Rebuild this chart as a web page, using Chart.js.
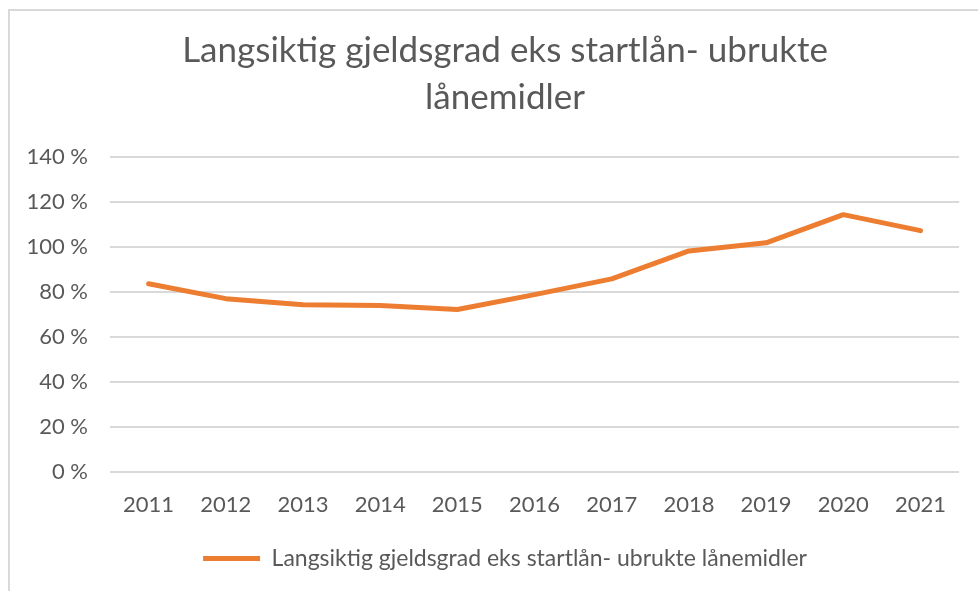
<!DOCTYPE html>
<html>
<head>
<meta charset="utf-8">
<script src="https://cdn.jsdelivr.net/npm/chart.js@4"></script>
<style>
  html, body { margin: 0; padding: 0; background: #fff; overflow: hidden; width: 978px; height: 591px; }
  #frame { position: absolute; left: 8px; top: 9px; width: 1000px; height: 600px; border-left: 2px solid #d9d9d9; border-top: 2px solid #d9d9d9; }
  #c { position: absolute; left: 11px; top: 12px; }
</style>
</head>
<body>
<div id="frame"></div>
<canvas id="c" width="955" height="579"></canvas>
<script>
const titleLines = ['Langsiktig gjeldsgrad eks startlån- ubrukte', 'lånemidler'];
const seriesName = 'Langsiktig gjeldsgrad eks startlån- ubrukte lånemidler';
const years = ['2011', '2012', '2013', '2014', '2015', '2016', '2017', '2018', '2019', '2020', '2021'];
const debtRatio = [83.6, 77.0, 74.3, 73.9, 72.2, 78.8, 85.8, 98.2, 101.8, 114.3, 107.2];
const yTicks = [0, 20, 40, 60, 80, 100, 120, 140];

const textColor = '#595959';
const fontFamily = 'Lato, "Open Sans", sans-serif';

// shift title and legend boxes so they are centred like the original (wider) chart object
const centreShift = {
  id: 'centreShift',
  afterLayout(chart) {
    if (chart.titleBlock) chart.titleBlock.left += 33;
    if (chart.legend) chart.legend.left += 33;
  }
};

new Chart(document.getElementById('c'), {
  type: 'line',
  data: {
    labels: years,
    datasets: [{
      label: seriesName,
      data: debtRatio,
      borderColor: '#ED7D31',
      backgroundColor: '#ED7D31',
      borderWidth: 5,
      borderCapStyle: 'round',
      borderJoinStyle: 'round',
      pointRadius: 0,
      pointHoverRadius: 0,
      tension: 0,
      fill: false
    }]
  },
  plugins: [centreShift],
  options: {
    responsive: false,
    devicePixelRatio: 1,
    animation: false,
    layout: { padding: { left: 0, right: 0, top: 0, bottom: 11 } },
    plugins: {
      title: {
        display: true,
        text: titleLines,
        color: textColor,
        font: { family: fontFamily, size: 35, weight: 'normal', lineHeight: 1.34 },
        padding: { top: 15, bottom: 36 }
      },
      legend: {
        position: 'bottom',
        labels: {
          color: textColor,
          font: { family: fontFamily, size: 23 },
          usePointStyle: true,
          pointStyle: 'line',
          pointStyleWidth: 57,
          boxHeight: 23
        }
      },
      tooltip: { enabled: false }
    },
    scales: {
      x: {
        offset: true,
        grid: { display: false, drawTicks: false },
        border: { display: false },
        ticks: { color: textColor, font: { family: fontFamily, size: 22 }, padding: 20, maxRotation: 0 },
        afterFit: (s) => { s.height = 65; }
      },
      y: {
        min: yTicks[0],
        max: yTicks[yTicks.length - 1],
        afterBuildTicks: (s) => { s.ticks = yTicks.map(v => ({ value: v })); },
        grid: { color: '#D9D9D9', lineWidth: 2, drawTicks: false },
        border: { display: false },
        ticks: {
          color: textColor,
          font: { family: fontFamily, size: 22 },
          padding: 22,
          callback: (v) => v + ' %'
        },
        afterFit: (s) => { s.width = 99; }
      }
    }
  }
});
</script>
</body>
</html>
